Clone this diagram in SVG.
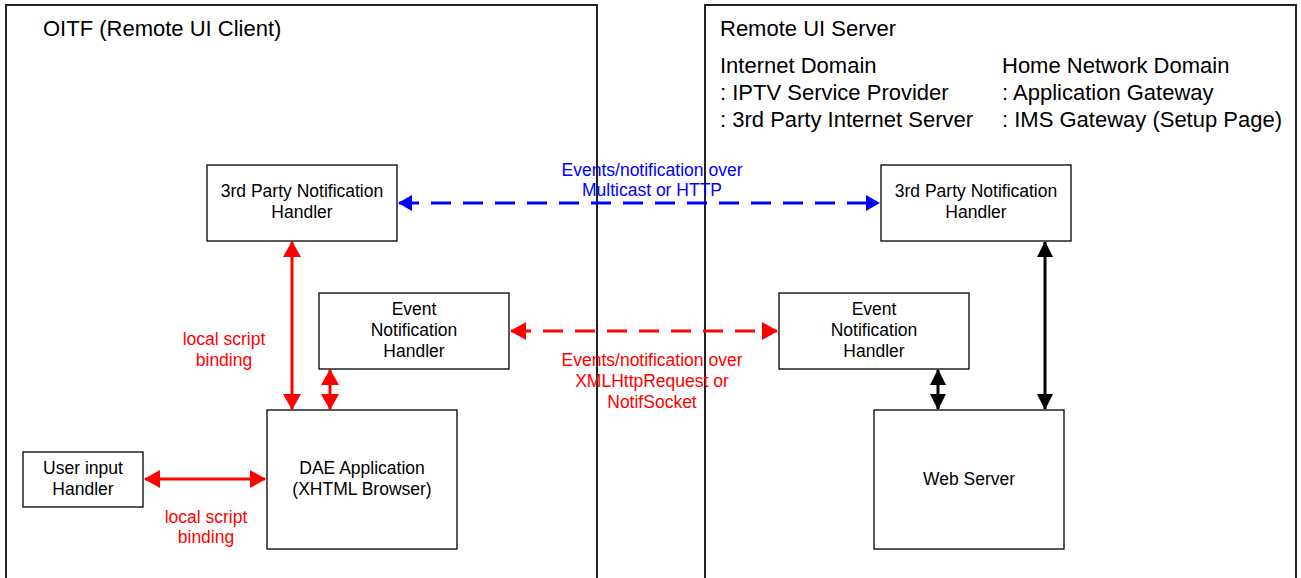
<svg xmlns="http://www.w3.org/2000/svg" width="1301" height="578" viewBox="0 0 1301 578">
<style>
text{font-family:"Liberation Sans",Arial,sans-serif;}
.hdr{font-size:22px;fill:#000;}
.lbl{font-size:17.5px;fill:#000;text-anchor:middle;}
.red{font-size:17.5px;fill:#ff0000;text-anchor:middle;}
.blue{font-size:17.5px;fill:#0000ff;text-anchor:middle;}
.cont{fill:none;stroke:#222;stroke-width:2;}
.box{fill:#fff;stroke:#000;stroke-width:1.3;}
.rl{stroke:#ff0000;stroke-width:3;fill:none;}
.bl{stroke:#0000ff;stroke-width:3;fill:none;stroke-dasharray:20 12;}
.rd{stroke:#ff0000;stroke-width:3;fill:none;stroke-dasharray:20 12;}
.kl{stroke:#000;stroke-width:3;fill:none;}
</style>
<defs>
<marker id="ar" markerUnits="userSpaceOnUse" markerWidth="16" markerHeight="18" viewBox="0 0 16 18" refX="15" refY="9" orient="auto-start-reverse"><path d="M0,0 L16,9 L0,18 z" fill="#ff0000"/></marker>
<marker id="ab" markerUnits="userSpaceOnUse" markerWidth="14" markerHeight="16" viewBox="0 0 14 16" refX="13" refY="8" orient="auto-start-reverse"><path d="M0,0 L14,8 L0,16 z" fill="#0000ff"/></marker>
<marker id="ak" markerUnits="userSpaceOnUse" markerWidth="16" markerHeight="16" viewBox="0 0 16 16" refX="15" refY="8" orient="auto-start-reverse"><path d="M0,0 L16,8 L0,16 z" fill="#000"/></marker>
</defs>
<rect width="1301" height="578" fill="#fff"/>
<g id="client">
<path class="cont" d="M6,580 L6,5 L597,5 L597,580"/>
<text class="hdr" x="43" y="36">OITF (Remote UI Client)</text>
</g>
<g id="server">
<path class="cont" d="M705,580 L705,5 L1296,5 L1296,580"/>
<text class="hdr" x="720" y="36">Remote UI Server</text>
<text class="hdr" x="720" y="73">Internet Domain</text>
<text class="hdr" x="720" y="100">: IPTV Service Provider</text>
<text class="hdr" x="720" y="127">: 3rd Party Internet Server</text>
<text class="hdr" x="1002" y="73">Home Network Domain</text>
<text class="hdr" x="1002" y="100">: Application Gateway</text>
<text class="hdr" x="1002" y="127">: IMS Gateway (Setup Page)</text>
</g>
<g id="connectors">
<line class="bl" x1="399" y1="203" x2="879" y2="203" marker-start="url(#ab)" marker-end="url(#ab)"/>
<line class="rd" x1="511" y1="331" x2="777" y2="331" marker-start="url(#ar)" marker-end="url(#ar)"/>
<line class="rl" x1="292" y1="242" x2="292" y2="409" marker-start="url(#ar)" marker-end="url(#ar)"/>
<line class="rl" x1="330" y1="370" x2="330" y2="409" marker-start="url(#ar)" marker-end="url(#ar)"/>
<line class="rl" x1="145" y1="479" x2="265" y2="479" marker-start="url(#ar)" marker-end="url(#ar)"/>
<line class="kl" x1="938" y1="370" x2="938" y2="409" marker-start="url(#ak)" marker-end="url(#ak)"/>
<line class="kl" x1="1045" y1="242" x2="1045" y2="409" marker-start="url(#ak)" marker-end="url(#ak)"/>
<text class="blue" x="652" y="176">Events/notification over</text>
<text class="blue" x="652" y="196">Multicast or HTTP</text>
<text class="red" x="652" y="366">Events/notification over</text>
<text class="red" x="652" y="387">XMLHttpRequest or</text>
<text class="red" x="652" y="408">NotifSocket</text>
<text class="red" x="224" y="345">local script</text>
<text class="red" x="224" y="366">binding</text>
<text class="red" x="206" y="523">local script</text>
<text class="red" x="206" y="543">binding</text>
</g>
<g id="c3p">
<rect class="box" x="207" y="165" width="190" height="76"/>
<text class="lbl" x="302" y="197">3rd Party Notification</text>
<text class="lbl" x="302" y="218">Handler</text>
</g>
<g id="cevt">
<rect class="box" x="319" y="293" width="190" height="76"/>
<text class="lbl" x="414" y="315">Event</text>
<text class="lbl" x="414" y="336">Notification</text>
<text class="lbl" x="414" y="357">Handler</text>
</g>
<g id="dae">
<rect class="box" x="267" y="410" width="190" height="139"/>
<text class="lbl" x="362" y="474">DAE Application</text>
<text class="lbl" x="362" y="495">(XHTML Browser)</text>
</g>
<g id="uih">
<rect class="box" x="23" y="452" width="120" height="55"/>
<text class="lbl" x="83" y="474">User input</text>
<text class="lbl" x="83" y="495">Handler</text>
</g>
<g id="s3p">
<rect class="box" x="881" y="165" width="190" height="76"/>
<text class="lbl" x="976" y="197">3rd Party Notification</text>
<text class="lbl" x="976" y="218">Handler</text>
</g>
<g id="sevt">
<rect class="box" x="779" y="293" width="190" height="76"/>
<text class="lbl" x="874" y="315">Event</text>
<text class="lbl" x="874" y="336">Notification</text>
<text class="lbl" x="874" y="357">Handler</text>
</g>
<g id="web">
<rect class="box" x="874" y="410" width="190" height="139"/>
<text class="lbl" x="969" y="485">Web Server</text>
</g>
</svg>
